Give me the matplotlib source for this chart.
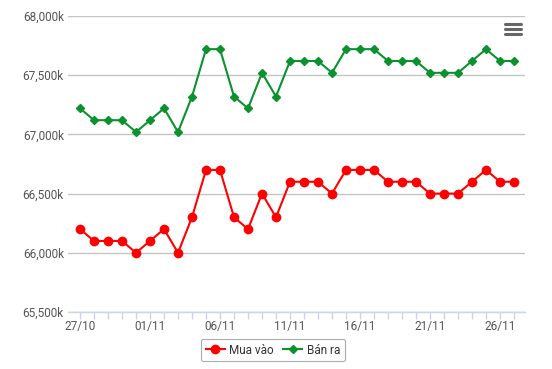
import matplotlib.pyplot as plt
import matplotlib.ticker as mticker
import numpy as np

plt.rcParams['font.family'] = ['Roboto', 'DejaVu Sans']

# ngày (27/10 -> 27/11)
ngay = ['27/10', '28/10', '29/10', '30/10', '31/10',
        '01/11', '02/11', '03/11', '04/11', '05/11', '06/11', '07/11', '08/11', '09/11', '10/11',
        '11/11', '12/11', '13/11', '14/11', '15/11', '16/11', '17/11', '18/11', '19/11', '20/11',
        '21/11', '22/11', '23/11', '24/11', '25/11', '26/11', '27/11']

mua_vao = [66200, 66100, 66100, 66100, 66000, 66100, 66200, 66000, 66300, 66700,
           66700, 66300, 66200, 66500, 66300, 66600, 66600, 66600, 66500, 66700,
           66700, 66700, 66600, 66600, 66600, 66500, 66500, 66500, 66600, 66700,
           66600, 66600]
ban_ra = [67220, 67120, 67120, 67120, 67020, 67120, 67220, 67020, 67320, 67720,
          67720, 67320, 67220, 67520, 67320, 67620, 67620, 67620, 67520, 67720,
          67720, 67720, 67620, 67620, 67620, 67520, 67520, 67520, 67620, 67720,
          67620, 67620]

x = np.arange(len(ngay))

fig = plt.figure(figsize=(5.52, 3.69), dpi=100)
# vùng vẽ: trái 68px, phải 525px, trên 16px, dưới 312px
ax = fig.add_axes([68/552, 1 - 312/369, (525-68)/552, (312-16)/369])

ax.plot(x, mua_vao, color='#ff0000', lw=1.5, marker='o', ms=6, label='Mua vào', zorder=3)
ax.plot(x, ban_ra, color='#0a922e', lw=1.5, marker='D', ms=4.2, label='Bán ra', zorder=3)

ax.set_ylim(65500, 68000)
ax.set_xlim(-12/14, (525-80)/14)
ax.yaxis.set_major_locator(mticker.MultipleLocator(500))
ax.yaxis.set_major_formatter(mticker.FuncFormatter(lambda v, p: f'{int(v):,}k'))
ax.grid(axis='y', color='#c4c4c4', lw=1)
ax.set_axisbelow(True)

ax.set_xticks(x[::5])
ax.set_xticklabels(ngay[::5])
ax.set_xticks(x, minor=True)
ax.tick_params(axis='x', which='both', direction='out', length=5, width=1,
               color='#ccd6eb', labelsize=8.5, labelcolor='#555555', pad=1)
ax.tick_params(axis='y', length=0, labelsize=8.5, labelcolor='#555555', pad=3)

for s in ['top', 'right', 'left']:
    ax.spines[s].set_visible(False)
ax.spines['bottom'].set_color('#ccd6eb')
ax.spines['bottom'].set_linewidth(1)

leg = ax.legend(loc='center', bbox_to_anchor=(273/552, 1 - 350/369),
                bbox_transform=fig.transFigure, ncol=2, fontsize=8.5,
                frameon=True, fancybox=True, edgecolor='#999999',
                handlelength=1.6, columnspacing=0.8, handletextpad=0.4,
                borderpad=0.4)
leg.get_frame().set_linewidth(0.8)
for t in leg.get_texts():
    t.set_color('#333333')

# nút menu
for yy in [24, 29, 34]:
    fig.add_artist(plt.Line2D([505/552, 521/552], [1 - yy/369, 1 - yy/369],
                              color='#666666', lw=2.2, solid_capstyle='round'))

fig.savefig('out.png', dpi=100)
